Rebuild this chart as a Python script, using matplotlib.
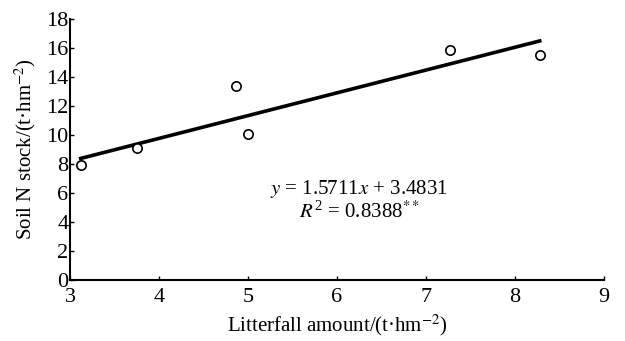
import matplotlib
matplotlib.use('Agg')
import matplotlib.pyplot as plt
import numpy as np

plt.rcParams['font.family'] = ['Liberation Serif', 'DejaVu Serif']
plt.rcParams['mathtext.fontset'] = 'stix'

# data
litterfall = [3.12, 3.75, 4.87, 5.00, 7.27, 8.28]
soil_n = [7.9, 9.1, 13.4, 10.1, 15.9, 15.5]
slope, intercept = 1.5711, 3.4831
x_ticks = [3, 4, 5, 6, 7, 8, 9]
y_ticks = list(range(0, 19, 2))

fig = plt.figure(figsize=(6.25, 3.41), dpi=100)
ax = fig.add_axes([0.112, 0.179, 0.854, 0.765])

ax.scatter(litterfall, soil_n, s=45, facecolors='white', edgecolors='black',
           linewidths=1.2, zorder=3)
xfit = np.array([min(litterfall), max(litterfall)])
ax.plot(xfit, slope * xfit + intercept, color='black', lw=2.6, zorder=2)

ax.text(6.25, 6.3, r'$y$ = 1.5711$x$ + 3.4831', ha='center', va='center', fontsize=15)
ax.text(6.25, 4.7, r'$R^{\mathregular{2}}$ = 0.8388$^{**}$', ha='center', va='center', fontsize=15)

ax.set_xlim(3, 9)
ax.set_ylim(0, 18)
ax.set_xticks(x_ticks)
ax.set_yticks(y_ticks)
ax.tick_params(direction='in', length=3, width=1, labelsize=16)
ax.tick_params(axis='x', pad=6)
ax.tick_params(axis='y', pad=1)
for s in ['top', 'right']:
    ax.spines[s].set_visible(False)
for s in ['left', 'bottom']:
    ax.spines[s].set_linewidth(1.5)

ax.set_xlabel(r'Litterfall amount/(t·hm$^{-2}$)', fontsize=15, labelpad=4)
ax.set_ylabel(r'Soil N stock/(t·hm$^{-2}$)', fontsize=15, labelpad=6)

plt.savefig('out.png', dpi=100)
